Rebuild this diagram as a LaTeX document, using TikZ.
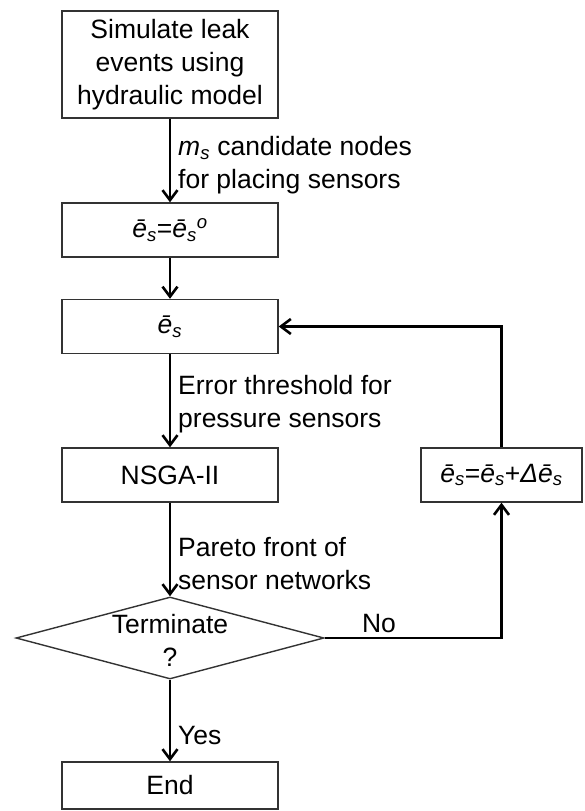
\documentclass[tikz,border=0pt]{standalone}
\usepackage{fontspec}
\setmainfont{Liberation Sans}
\usetikzlibrary{shapes.geometric,arrows.meta}
\newcommand{\ebar}{\textit{ē}\textsubscript{\textit{s}}}

\begin{document}
\begin{tikzpicture}[x=1pt,y=-1pt,
        every node/.style={font=\fontsize{26.5}{33}\selectfont},
        stage/.style={draw=black!80,line width=1.4pt,minimum width=216pt,minimum height=54pt,inner sep=0pt,align=center},
        lbl/.style={anchor=west,inner sep=0pt,align=left},
        arr/.style={line width=2.8pt,-{Straight Barb[length=10pt,width=15pt,line width=2.6pt]}}]
        \useasboundingbox (0,0) rectangle (584,811);
        % main column
        \node[stage,minimum height=107pt] (sim) at (170,64.5) {Simulate leak\\events using\\hydraulic model};
        \node[stage] (init) at (170,230) {\ebar=\ebar\textsuperscript{\textit{o}}};
        \node[stage] (est) at (170,326.5) {\ebar};
        \node[stage] (nsga) at (170,475) {NSGA-II};
        \node[draw=black!80,diamond,line width=1.4pt,minimum width=308pt,minimum height=82pt,inner sep=0pt] (term) at (170,638) {};
        \node[align=center,inner sep=0pt] (termtxt) at (170,640) {Terminate\\?};
        \node[stage,minimum height=47pt] (end) at (170,785.5) {End};
        % update box
        \node[stage,minimum width=161pt] (upd) at (501.5,475) {\ebar=\ebar+\textit{Δ}\ebar};
        % labels
        \node[lbl] (lsim) at (178,165) {\textit{m}\textsubscript{\textit{s}} candidate nodes\\for placing sensors};
        \node[lbl] (lest) at (178,404) {Error threshold for\\pressure sensors};
        \node[lbl] (lnsga) at (178,564) {Pareto front of\\sensor networks};
        \node[lbl] (lyes) at (178,736) {Yes};
        \node[inner sep=0pt] (lno) at (379,624) {No};
        % connectors
        \draw[arr] (sim) -- (init);
        \draw[arr] (init) -- (est);
        \draw[arr] (est) -- (nsga);
        \draw[arr] (nsga) -- (term);
        \draw[arr] (term) -- (end);
        \draw[arr] (term.east) -- (term.east -| upd.south) -- (upd.south);
        \draw[arr] (upd.north) |- (est.east);
\end{tikzpicture}
\end{document}
